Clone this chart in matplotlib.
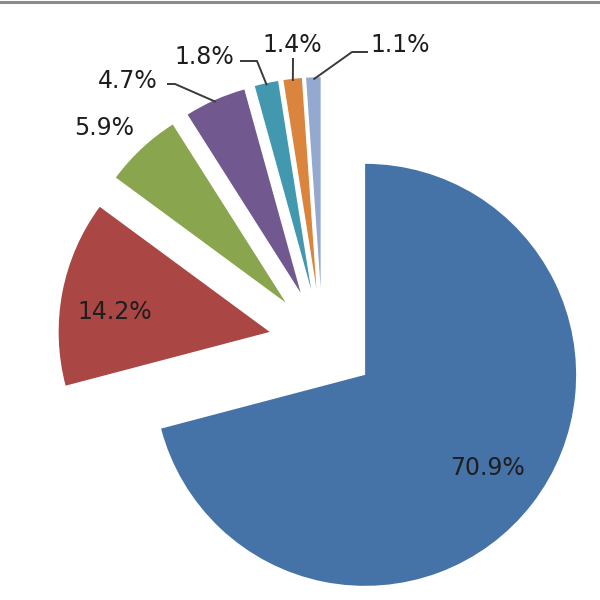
import numpy as np
import matplotlib
matplotlib.use('Agg')
import matplotlib.pyplot as plt
from matplotlib.lines import Line2D

plt.rcParams.update({'font.family': 'DejaVu Sans'})

# data, clockwise from 12 o'clock
shares = [70.9, 14.2, 5.9, 4.7, 1.8, 1.4, 1.1]
labels = ['70.9%', '14.2%', '5.9%', '4.7%', '1.8%', '1.4%', '1.1%']
colors = ['#4572A7', '#AA4643', '#89A54E', '#71588F', '#4198AF', '#DB843D', '#93A9CF']

EXPLODE = 0.255
CX, CY, R_PX = 322.5, 342.0, 211.0   # pie centre / radius in output pixels


def px(x, y):
    """pixel position (600x600, y down) -> data coords of the pie axes"""
    return (x - CX) / R_PX, (CY - y) / R_PX


fig = plt.figure(figsize=(6, 6), dpi=100)
ax = fig.add_axes([0, 0, 1, 1])
wedges, _ = ax.pie(shares, colors=colors, startangle=90, counterclock=False,
                   explode=[EXPLODE] * len(shares), radius=1.0,
                   wedgeprops=dict(linewidth=0))
ax.set_xlim(*sorted([px(0, 0)[0], px(600, 0)[0]]))
ax.set_ylim(*sorted([px(0, 0)[1], px(0, 600)[1]]))
ax.set_aspect('equal')
ax.axis('off')

TXT = dict(fontsize=17, color='#1e1e1e', va='center')

# labels inside the two biggest slices: (radial distance, angle tweak in deg)
inside = {0: (0.73, 0.5), 1: (0.74, 3.5)}
for i, (d, tweak) in inside.items():
    w = wedges[i]
    mid = np.deg2rad((w.theta1 + w.theta2) / 2 + tweak)
    cx, cy = w.center
    ax.text(cx + d * np.cos(mid), cy + d * np.sin(mid), labels[i], ha='center', **TXT)

# outside labels: text centre (px) and leader start/elbow (px); leader ends on the slice rim
outside = {
    2: dict(text=(104, 128), leader=None),
    3: dict(text=(128, 81), leader=[(167, 84), (175, 84)]),
    4: dict(text=(204, 57), leader=[(240, 61), (257, 61)]),
    5: dict(text=(292, 45), leader=[(293, 58)]),
    6: dict(text=(400, 45), leader=[(368, 52), (352, 52)]),
}
for i, spec in outside.items():
    ax.text(*px(*spec['text']), labels[i], ha='center', **TXT)
    if spec['leader']:
        w = wedges[i]
        mid = np.deg2rad((w.theta1 + w.theta2) / 2)
        cx, cy = w.center
        end = (cx + 0.99 * np.cos(mid), cy + 0.99 * np.sin(mid))
        pts = [px(*p) for p in spec['leader']] + [end]
        ax.plot([p[0] for p in pts], [p[1] for p in pts], color='#3a3a3a', lw=1.4,
                solid_capstyle='butt', zorder=3)

# thin grey frame edge at the top, as in the screenshot
fig.add_artist(Line2D([0, 1], [0.9975, 0.9975], transform=fig.transFigure,
                      color='#8a8a8a', lw=2.2))

fig.savefig('out.png', dpi=100)
